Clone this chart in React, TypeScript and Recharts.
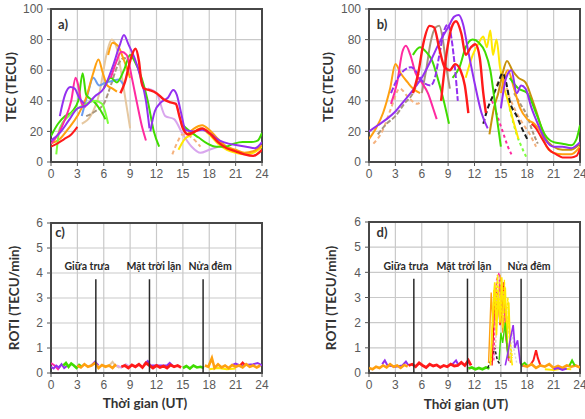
import type { CSSProperties } from 'react'
import {
  CartesianGrid,
  Line,
  LineChart,
  ReferenceArea,
  ReferenceDot,
  ReferenceLine,
  XAxis,
  YAxis,
} from 'recharts'

type Pt = [number, number]

interface Trace {
  key: string
  color: string
  pts: Pt[]
  dash?: string
  width?: number
}

const HOURS = [0, 3, 6, 9, 12, 15, 18, 21, 24]
const TEC_TICKS = [0, 20, 40, 60, 80, 100]
const ROTI_TICKS = [0, 1, 2, 3, 4, 5, 6]

// noon / sunset / midnight markers, in UT hours
const MARK_HOURS = [5.1, 11.2, 17.3]
const MARK_TOP = 3.75
const MARK_CAPTIONS = ['Giữa trưa', 'Mặt trời lặn', 'Nửa đêm']
const CAPTION_HOURS_C = [4.1, 11.7, 18.1]
const CAPTION_HOURS_D = [4.2, 10.8, 18.2]
const CAPTION_LEVEL = 4.25

const C = {
  purple: '#9430f0',
  red: '#ff1a1a',
  green: '#3fdc00',
  lime: '#7cff3a',
  orange: '#ffa010',
  magenta: '#ff2aa0',
  tan: '#e6c8a0',
  gray: '#a8967e',
  blue: '#6a9cf0',
  yellow: '#ffe800',
  gold: '#c8920c',
  lavender: '#d9a6ee',
  black: '#1e1e1e',
  peach: '#f5b27e',
}

// ---- TEC, quiet days (a)
const tecA_purple1: Pt[] = [[0, 14], [1, 19], [2, 27], [3, 35], [4, 37], [5, 43], [6, 48], [7, 62], [7.8, 76], [8.3, 83], [8.8, 77], [9.5, 68], [10.2, 55], [10.8, 40], [11.2, 22]]
const tecA_purple2: Pt[] = [[11.3, 20], [11.8, 33], [12.5, 39], [13.3, 42], [13.9, 47], [14.3, 44], [14.8, 32], [15.3, 21], [16.2, 20], [17.2, 21], [18.2, 18], [19.2, 14], [20.2, 12], [21.2, 11], [22.2, 10], [23.2, 9], [24, 13]]
const tecA_purple3: Pt[] = [[1, 30], [1.6, 44], [2.2, 49], [2.7, 48], [3.2, 42], [3.8, 38]]
const tecA_red1: Pt[] = [[0, 10], [0.7, 12], [1.5, 15], [2.3, 18], [3, 23]]
const tecA_red2: Pt[] = [[7.9, 45], [8.4, 52], [9, 66], [9.6, 74], [10, 66], [10.3, 52], [10.6, 48], [11.2, 47], [12, 45], [12.8, 41], [13.6, 39], [14.2, 38], [14.6, 30], [15, 22], [15.6, 18], [16.4, 20], [17.2, 22], [18, 19], [19, 13], [20, 9], [21, 7], [22, 5], [23, 4], [24, 8]]
const tecA_green1: Pt[] = [[0, 17], [0.8, 25], [1.6, 30], [2.4, 33], [3.1, 40], [3.6, 58], [4, 44], [4.8, 40], [5.5, 35], [6.2, 28]]
const tecA_green2: Pt[] = [[0.6, 5], [1, 22], [2, 30], [3, 35], [4, 38], [5, 40], [5.8, 38], [6.5, 25]]
const tecA_green3: Pt[] = [[6, 48], [6.8, 55], [7.5, 52], [8.3, 60], [9, 70], [9.5, 66], [10.3, 55], [11, 40], [11.7, 20], [12.3, 10]]
const tecA_green4: Pt[] = [[15, 24], [15.8, 20], [16.8, 16], [17.8, 12], [18.8, 10], [19.8, 10], [20.8, 12], [21.8, 13], [22.8, 13], [23.5, 14], [24, 19]]
const tecA_orange1: Pt[] = [[0, 12], [1, 15], [2, 22], [3, 30], [4, 42], [4.8, 58], [5.4, 67], [5.9, 58], [6.4, 50], [7, 48], [7.5, 46]]
const tecA_orange2: Pt[] = [[6.5, 70], [7, 78], [7.6, 76], [8.2, 68], [9, 55]]
const tecA_orange3: Pt[] = [[15.5, 18], [16.3, 22], [17.2, 24], [18, 21], [19, 15], [20, 10], [21, 8], [22, 6], [23, 7], [24, 11]]
const tecA_magenta1: Pt[] = [[0, 12], [0.8, 18], [1.6, 28], [2.3, 40], [2.8, 55], [3.1, 50], [3.5, 38], [4, 36]]
const tecA_magenta2: Pt[] = [[6.8, 55], [7.4, 65], [8, 72], [8.6, 70], [9.2, 55], [9.8, 38], [10.4, 22], [10.8, 14]]
const tecA_tan: Pt[] = [[3.5, 25], [4.5, 30], [5.5, 45], [6.3, 70], [6.9, 80], [7.5, 74], [8, 58], [8.5, 40], [9, 22]]
const tecA_gray: Pt[] = [[4, 30], [5, 33], [6, 38], [6.8, 50], [7.5, 62], [8.3, 68], [9, 65]]
const tecA_blue: Pt[] = [[3.5, 30], [4.2, 45], [4.8, 55], [5.5, 50], [6.2, 52], [7, 53], [7.7, 54], [8.3, 50]]
const tecA_yellow: Pt[] = [[14.5, 8], [15.2, 15], [16, 18], [17, 22], [18, 18], [19, 12], [20, 8], [21, 6], [22, 5], [23, 6], [24, 10]]
const tecA_lavender: Pt[] = [[11, 48], [12, 45], [13, 30], [14, 28], [15, 18], [16, 10], [17, 6], [18, 8], [19, 10]]
const tecA_peach: Pt[] = [[13.8, 5], [14.3, 12], [15, 18], [16, 16], [17, 10]]

// ---- TEC, disturbed days (b)
const tecB_purple1: Pt[] = [[0, 20], [1, 24], [2, 28], [3, 33], [4, 40], [5, 47], [6, 55], [7, 66], [8, 78], [9, 88], [9.7, 95], [10.2, 96], [10.7, 90], [11.3, 72], [12, 52], [12.8, 32], [13.5, 22]]
const tecB_purple2: Pt[] = [[2.5, 45], [3.3, 55], [4, 60], [4.8, 62], [5.5, 58], [6.2, 52], [7, 50], [7.5, 55], [8, 70], [8.5, 85], [9, 90], [9.4, 80], [9.8, 60], [10.1, 40]]
const tecB_purple3: Pt[] = [[15, 35], [15.6, 55], [16.2, 60], [16.8, 45], [17.3, 50], [17.8, 48], [18.5, 35], [19.2, 25], [20, 15], [21, 10], [22, 10], [23, 9], [24, 13]]
const tecB_red1: Pt[] = [[8.2, 40], [8.8, 70], [9.4, 88], [9.9, 92], [10.5, 84], [11, 70], [11.6, 75], [12.1, 77], [12.6, 68], [13, 45], [13.3, 32]]
const tecB_red2: Pt[] = [[5, 45], [5.6, 58], [6.2, 78], [6.9, 89], [7.4, 88], [8, 74], [8.6, 62], [9.2, 60], [9.8, 64], [10.4, 60], [10.9, 50], [11.3, 32]]
const tecB_red3: Pt[] = [[18.5, 25], [19, 22], [19.7, 15], [20.5, 8], [21.3, 5], [22, 3], [23, 3], [23.6, 4], [24, 9]]
const tecB_green1: Pt[] = [[5, 70], [5.8, 75], [6.5, 72], [7.2, 66], [7.8, 55], [8.5, 40], [9.1, 25]]
const tecB_green2: Pt[] = [[9.5, 55], [10.3, 62], [11, 75], [11.8, 80], [12.5, 78], [13.2, 72], [13.8, 60], [14.4, 35], [15, 10]]
const tecB_green3: Pt[] = [[16, 55], [17, 48], [18, 45], [19, 32], [20, 18], [21, 13], [22, 12], [23, 11], [23.6, 15], [24, 24]]
const tecB_orange1: Pt[] = [[0, 15], [0.8, 22], [1.6, 32], [2.4, 48], [3, 64], [3.6, 58], [4.4, 52], [5, 48], [5.8, 45]]
const tecB_orange2: Pt[] = [[15, 45], [15.8, 60], [16.5, 48], [17.2, 35], [18, 28], [18.8, 25], [19.5, 20], [20.2, 10], [21, 6], [22, 5], [23, 5], [24, 10]]
const tecB_yellow: Pt[] = [[11, 55], [11.8, 70], [12.5, 78], [13, 82], [13.4, 75], [13.8, 86], [14.1, 70], [14.5, 80], [14.9, 62], [15.3, 50], [15.8, 40], [16.5, 25], [17, 15]]
const tecB_gold: Pt[] = [[13.7, 18], [14.2, 35], [14.7, 45], [15.2, 58], [15.7, 66], [16.3, 60], [17, 55], [17.8, 52], [18.5, 42], [19.2, 30], [20, 16], [21, 10], [22, 8], [23, 8], [24, 12]]
const tecB_gray: Pt[] = [[6, 45], [6.5, 60], [7, 78], [7.6, 88], [8, 89], [8.4, 80], [8.8, 62], [9.2, 48]]
const tecB_magenta: Pt[] = [[2.5, 38], [3.2, 52], [3.8, 72], [4.2, 76], [4.7, 70], [5.3, 58], [6, 52], [6.7, 45], [7.3, 35], [7.7, 28]]
const tecB_black: Pt[] = [[13, 25], [13.5, 35], [14, 42], [14.6, 50], [15.2, 58], [15.6, 52], [16, 40], [16.8, 30], [17.4, 22], [18, 15]]
const tecB_peach: Pt[] = [[0.5, 12], [1.5, 20], [2.5, 35], [3.5, 48], [4.5, 42], [5.5, 38], [6, 40]]
const tecB_lime: Pt[] = [[16, 35], [16.8, 18], [17.5, 8], [18, 2]]
const tecB_pink: Pt[] = [[14, 40], [14.6, 30], [15.2, 20], [15.8, 10], [16.2, 5]]
const tecB_brown: Pt[] = [[1, 18], [2, 25], [3, 30], [4, 38], [5, 45], [5.7, 55]]
const tecB_peach2: Pt[] = [[14.5, 50], [15.2, 55], [16, 42], [16.8, 32], [17.5, 25], [18.3, 18], [19, 10]]
const tecB_gray2: Pt[] = [[16.5, 45], [17.2, 38], [18, 30], [18.6, 20], [19.2, 12]]

// ---- ROTI, quiet days (c)
const rotC_purple1: Pt[] = [[0, 0.25], [0.3, 0.18], [0.6, 0.3], [0.9, 0.22], [1.2, 0.35], [1.5, 0.2], [1.8, 0.28]]
const rotC_magenta: Pt[] = [[0, 0.4], [0.4, 0.3], [0.8, 0.15], [1.1, 0.3]]
const rotC_green1: Pt[] = [[1.4, 0.3], [1.7, 0.4], [2, 0.25], [2.3, 0.38], [2.6, 0.3], [2.9, 0.2], [3.2, 0.32], [3.5, 0.25]]
const rotC_orange1: Pt[] = [[3, 0.3], [3.4, 0.22], [3.8, 0.35], [4.2, 0.25], [4.6, 0.3], [5, 0.4], [5.4, 0.2], [5.8, 0.32], [6.2, 0.25], [6.6, 0.3], [7, 0.2], [7.4, 0.35]]
const rotC_purple2: Pt[] = [[4.6, 0.3], [5, 0.45], [5.4, 0.3]]
const rotC_tan: Pt[] = [[6.5, 0.25], [7, 0.45], [7.3, 0.3], [7.8, 0.2]]
const rotC_pink: Pt[] = [[7.5, 0.3], [8, 0.22], [8.5, 0.35], [9, 0.25]]
const rotC_red: Pt[] = [[8, 0.25], [8.4, 0.3], [8.8, 0.2], [9.2, 0.32], [9.6, 0.25], [10, 0.35], [10.4, 0.22], [10.8, 0.4], [11.2, 0.3], [11.6, 0.2], [12, 0.3], [12.4, 0.22], [12.8, 0.28], [13.2, 0.2], [13.6, 0.32], [14, 0.25], [14.4, 0.3], [14.8, 0.22]]
const rotC_purple3: Pt[] = [[10.6, 0.35], [11, 0.48], [11.3, 0.3], [13.2, 0.3], [13.5, 0.4], [13.8, 0.3]]
const rotC_green2: Pt[] = [[15, 0.2], [15.4, 0.28], [15.8, 0.18], [16.2, 0.3], [16.6, 0.22], [17, 0.25], [17.4, 0.2]]
const rotC_orange2: Pt[] = [[17.5, 0.3], [17.9, 0.25], [18.3, 0.6], [18.6, 0.2], [19, 0.35], [19.4, 0.22], [19.8, 0.3], [20.2, 0.2], [20.6, 0.32], [21, 0.25], [21.4, 0.3], [21.8, 0.22], [22.2, 0.35], [22.6, 0.25], [23, 0.3], [23.4, 0.22], [23.8, 0.3]]
const rotC_yellow: Pt[] = [[18, 0.15], [19, 0.2], [20, 0.15], [21, 0.18]]
const rotC_red2: Pt[] = [[21.5, 0.3], [21.8, 0.42], [22.1, 0.3]]
const rotC_purple4: Pt[] = [[20.5, 0.3], [21, 0.38], [21.5, 0.3], [23, 0.35], [23.5, 0.4], [24, 0.3]]

// ---- ROTI, disturbed days (d)
const rotD_orange1: Pt[] = [[0, 0.2], [0.4, 0.15], [0.8, 0.25], [1.2, 0.2], [1.6, 0.3], [2, 0.22], [2.4, 0.35], [2.8, 0.25], [3.2, 0.3], [3.6, 0.2], [4, 0.32], [4.4, 0.25]]
const rotD_purple1: Pt[] = [[1.5, 0.35], [1.8, 0.5], [2.1, 0.3], [3, 0.25], [3.8, 0.3], [4.2, 0.45], [4.5, 0.3]]
const rotD_red1: Pt[] = [[4.5, 0.3], [4.9, 0.35], [5.3, 0.25], [5.7, 0.4], [6.1, 0.3], [6.5, 0.22], [6.9, 0.35], [7.3, 0.28], [7.7, 0.32], [8.1, 0.22], [8.5, 0.3], [8.9, 0.25], [9.3, 0.35], [9.7, 0.28], [10.1, 0.3], [10.5, 0.42], [10.9, 0.3], [11.3, 0.5], [11.6, 0.3]]
const rotD_purple2: Pt[] = [[9.5, 0.35], [9.9, 0.5], [10.2, 0.3]]
const rotD_green1: Pt[] = [[11.3, 0.18], [11.7, 0.22], [12.1, 0.15], [12.5, 0.2], [12.9, 0.15], [13.3, 0.22], [13.7, 0.18]]
const rotD_black: Pt[] = [[13.5, 0.2], [14, 0.6], [14.3, 1.0], [14.6, 0.5], [15, 0.3]]
const rotD_yellow1: Pt[] = [[13.8, 0.3], [14.1, 2.5], [14.3, 3.6], [14.5, 1.5], [14.7, 3.2], [14.9, 2.0], [15.1, 3.8], [15.3, 2.4], [15.5, 3.4], [15.7, 1.2], [15.9, 2.8], [16.1, 0.8], [16.3, 0.3]]
const rotD_yellow3: Pt[] = [[13.9, 0.5], [14.2, 3.3], [14.4, 2.2], [14.6, 3.9], [14.8, 2.7], [15, 3.1], [15.2, 1.8], [15.4, 3.7], [15.6, 2.2], [15.8, 3.0], [16, 1.5], [16.3, 0.6]]
const rotD_orange2: Pt[] = [[13.6, 0.4], [13.9, 3.2], [14.1, 1.8], [14.3, 3.5], [14.6, 2.2], [14.9, 3.9], [15.2, 1.6], [15.5, 2.8], [15.8, 0.9], [16.1, 0.4]]
const rotD_red2: Pt[] = [[14, 0.3], [14.3, 2.8], [14.6, 3.3], [14.9, 1.9], [15.1, 2.4], [15.3, 3.6], [15.6, 1.3], [15.9, 0.5]]
const rotD_pink: Pt[] = [[14.2, 0.5], [14.5, 3.7], [14.8, 4.0], [15, 2.6], [15.3, 3.2], [15.6, 1.5], [15.9, 0.4]]
const rotD_tan: Pt[] = [[14.4, 1], [14.7, 3.9], [15, 3.5], [15.4, 3.0], [15.8, 2.0], [16.2, 0.5]]
const rotD_green2: Pt[] = [[14.8, 0.5], [15, 1.6], [15.2, 1.2], [15.5, 2.0], [15.8, 0.6]]
const rotD_purple3: Pt[] = [[15.5, 0.3], [15.8, 0.8], [16.1, 1.4], [16.4, 1.9], [16.6, 1.0], [16.9, 1.3], [17.2, 0.4], [17.5, 0.25]]
const rotD_gray: Pt[] = [[16, 0.5], [16.3, 1.6], [16.5, 0.9], [16.8, 0.4]]
const rotD_green3: Pt[] = [[17.3, 0.3], [17.7, 0.4], [18.1, 0.25]]
const rotD_red3: Pt[] = [[18.3, 0.3], [18.7, 0.5], [19, 0.9], [19.2, 0.6], [19.5, 0.3]]
const rotD_orange3: Pt[] = [[17.5, 0.3], [18, 0.25], [18.5, 0.35], [19, 0.2], [19.5, 0.3], [20, 0.25], [20.5, 0.35], [21, 0.2], [21.5, 0.28], [22, 0.2], [22.5, 0.3], [23, 0.25], [23.5, 0.3], [24, 0.22]]
const rotD_purple4: Pt[] = [[21, 0.15], [21.5, 0.2], [22, 0.12], [22.5, 0.18]]
const rotD_green4: Pt[] = [[22.8, 0.3], [23.1, 0.5], [23.4, 0.3]]
const rotD_yellow2: Pt[] = [[20, 0.15], [21, 0.12], [22, 0.18], [23, 0.15]]

const tecA: Trace[] = [
  { key: 'tan', color: C.tan, pts: tecA_tan },
  { key: 'gray', color: C.gray, pts: tecA_gray, dash: '5 2' },
  { key: 'lav', color: C.lavender, pts: tecA_lavender },
  { key: 'peach', color: C.peach, pts: tecA_peach, dash: '4 3' },
  { key: 'blue', color: C.blue, pts: tecA_blue },
  { key: 'y', color: C.yellow, pts: tecA_yellow },
  { key: 'o1', color: C.orange, pts: tecA_orange1 },
  { key: 'o2', color: C.orange, pts: tecA_orange2 },
  { key: 'o3', color: C.orange, pts: tecA_orange3 },
  { key: 'g1', color: C.green, pts: tecA_green1 },
  { key: 'g2', color: C.lime, pts: tecA_green2 },
  { key: 'g3', color: C.green, pts: tecA_green3 },
  { key: 'g4', color: C.green, pts: tecA_green4 },
  { key: 'm1', color: C.magenta, pts: tecA_magenta1 },
  { key: 'm2', color: C.magenta, pts: tecA_magenta2 },
  { key: 'p1', color: C.purple, pts: tecA_purple1 },
  { key: 'p2', color: C.purple, pts: tecA_purple2 },
  { key: 'p3', color: C.purple, pts: tecA_purple3 },
  { key: 'r1', color: C.red, pts: tecA_red1 },
  { key: 'r2', color: C.red, pts: tecA_red2, width: 2.4 },
]

const tecB: Trace[] = [
  { key: 'peach', color: C.peach, pts: tecB_peach, dash: '4 3' },
  { key: 'peach2', color: C.peach, pts: tecB_peach2, dash: '4 3' },
  { key: 'brown', color: C.gray, pts: tecB_brown, dash: '5 2' },
  { key: 'gray', color: C.gray, pts: tecB_gray },
  { key: 'gray2', color: C.gray, pts: tecB_gray2, dash: '4 2' },
  { key: 'pink', color: C.magenta, pts: tecB_pink, dash: '3 3' },
  { key: 'lime', color: C.lime, pts: tecB_lime, dash: '3 3' },
  { key: 'y', color: C.yellow, pts: tecB_yellow },
  { key: 'o1', color: C.orange, pts: tecB_orange1 },
  { key: 'o2', color: C.orange, pts: tecB_orange2 },
  { key: 'gold', color: C.gold, pts: tecB_gold },
  { key: 'blk', color: C.black, pts: tecB_black, dash: '5 3' },
  { key: 'm', color: C.magenta, pts: tecB_magenta },
  { key: 'g1', color: C.green, pts: tecB_green1 },
  { key: 'g2', color: C.green, pts: tecB_green2 },
  { key: 'g3', color: C.green, pts: tecB_green3 },
  { key: 'p1', color: C.purple, pts: tecB_purple1 },
  { key: 'p2', color: C.purple, pts: tecB_purple2, dash: '6 2' },
  { key: 'p3', color: C.purple, pts: tecB_purple3 },
  { key: 'r1', color: C.red, pts: tecB_red1, width: 2.4 },
  { key: 'r2', color: C.red, pts: tecB_red2, width: 2.4 },
  { key: 'r3', color: C.red, pts: tecB_red3 },
]

const rotiC: Trace[] = [
  { key: 'y', color: C.yellow, pts: rotC_yellow },
  { key: 'tan', color: C.tan, pts: rotC_tan },
  { key: 'pink', color: C.lavender, pts: rotC_pink },
  { key: 'm', color: C.magenta, pts: rotC_magenta },
  { key: 'p1', color: C.purple, pts: rotC_purple1 },
  { key: 'p2', color: C.purple, pts: rotC_purple2 },
  { key: 'p3', color: C.purple, pts: rotC_purple3 },
  { key: 'p4', color: C.purple, pts: rotC_purple4 },
  { key: 'g1', color: C.green, pts: rotC_green1, width: 2.6 },
  { key: 'o1', color: C.orange, pts: rotC_orange1, width: 2.6 },
  { key: 'r', color: C.red, pts: rotC_red, width: 2.8 },
  { key: 'r2', color: C.red, pts: rotC_red2 },
  { key: 'g2', color: C.green, pts: rotC_green2, width: 2.6 },
  { key: 'o2', color: C.orange, pts: rotC_orange2, width: 2.6 },
]

const rotiD: Trace[] = [
  { key: 'y2', color: C.yellow, pts: rotD_yellow2 },
  { key: 'p1', color: C.purple, pts: rotD_purple1 },
  { key: 'o1', color: C.orange, pts: rotD_orange1, width: 2.6 },
  { key: 'p2', color: C.purple, pts: rotD_purple2 },
  { key: 'r1', color: C.red, pts: rotD_red1, width: 2.8 },
  { key: 'g1', color: C.green, pts: rotD_green1, width: 2.6 },
  { key: 'blk', color: C.black, pts: rotD_black, dash: '3 2', width: 1.5 },
  { key: 'r2', color: C.red, pts: rotD_red2, width: 1.4 },
  { key: 'o2', color: C.orange, pts: rotD_orange2, width: 1.4 },
  { key: 'pink', color: C.magenta, pts: rotD_pink, width: 1.2, dash: '3 2' },
  { key: 'tan', color: C.tan, pts: rotD_tan, width: 1.4, dash: '3 2' },
  { key: 'y3', color: C.yellow, pts: rotD_yellow3, width: 1.3, dash: '3 1' },
  { key: 'y1', color: C.yellow, pts: rotD_yellow1, width: 1.6 },
  { key: 'g2', color: C.green, pts: rotD_green2, width: 1.4 },
  { key: 'gray', color: '#d8d8d8', pts: rotD_gray, dash: '2 2', width: 1.4 },
  { key: 'p3', color: C.purple, pts: rotD_purple3, width: 1.6 },
  { key: 'g3', color: C.green, pts: rotD_green3 },
  { key: 'r3', color: C.red, pts: rotD_red3 },
  { key: 'o3', color: C.orange, pts: rotD_orange3, width: 2.6 },
  { key: 'p4', color: C.purple, pts: rotD_purple4 },
  { key: 'g4', color: C.green, pts: rotD_green4 },
]

const rows = (pts: Pt[]) => pts.map(([t, v]) => ({ t, v }))

const TICK_FONT = { fill: '#5a5a5a', fontSize: 12, fontFamily: "'Liberation Sans', Arial, sans-serif" }
const TITLE_FONT = "Lato, 'Open Sans', sans-serif"

interface PanelProps {
  left: number
  top: number
  width: number
  height: number
  marginTop: number
  marginRight: number
  axisWidth: number
  axisHeight: number
  yMax: number
  yTicks: number[]
  traces: Trace[]
  smooth: boolean
  captionHours?: number[]
}

function Panel(p: PanelProps) {
  return (
    <div style={{ position: 'absolute', left: p.left, top: p.top }}>
      <LineChart
        width={p.width}
        height={p.height}
        margin={{ top: p.marginTop, right: p.marginRight, bottom: 0, left: 0 }}
      >
        <CartesianGrid stroke="#c9c9c9" strokeWidth={1.2} />
        <XAxis
          type="number"
          dataKey="t"
          domain={[0, 24]}
          ticks={HOURS}
          interval={0}
          allowDataOverflow
          height={p.axisHeight}
          axisLine={false}
          tickLine={{ stroke: '#555' }}
          tickSize={4}
          tickMargin={3}
          tick={TICK_FONT}
        />
        <YAxis
          type="number"
          domain={[0, p.yMax]}
          ticks={p.yTicks}
          interval={0}
          allowDataOverflow
          width={p.axisWidth}
          axisLine={false}
          tickLine={{ stroke: '#555' }}
          tickSize={4}
          tickMargin={4}
          tick={TICK_FONT}
        />
        {p.traces.map((tr) => (
          <Line
            key={tr.key}
            data={rows(tr.pts)}
            dataKey="v"
            type={p.smooth ? 'monotone' : 'linear'}
            stroke={tr.color}
            strokeWidth={tr.width ?? 2}
            strokeDasharray={tr.dash}
            dot={false}
            activeDot={false}
            isAnimationActive={false}
          />
        ))}
        {p.captionHours &&
          MARK_HOURS.map((h) => (
            <ReferenceLine
              key={`m${h}`}
              segment={[{ x: h, y: 0 }, { x: h, y: MARK_TOP }]}
              stroke="#2a2a2a"
              strokeWidth={1.5}
            />
          ))}
        {p.captionHours &&
          p.captionHours.map((h, i) => (
            <ReferenceDot
              key={`c${i}`}
              x={h}
              y={CAPTION_LEVEL}
              r={0}
              fill="none"
              stroke="none"
              label={{
                value: MARK_CAPTIONS[i],
                position: 'center',
                fill: '#2a2a2a',
                fontSize: 10.5,
                fontWeight: 700,
                fontFamily: TITLE_FONT,
              }}
            />
          ))}
        <ReferenceArea
          x1={0}
          x2={24}
          y1={0}
          y2={p.yMax}
          fill="none"
          stroke="#474747"
          strokeWidth={2}
          ifOverflow="visible"
        />
      </LineChart>
    </div>
  )
}

const baseTitle: CSSProperties = {
  position: 'absolute',
  fontFamily: TITLE_FONT,
  fontWeight: 700,
  color: '#333',
  whiteSpace: 'nowrap',
  lineHeight: 1,
}

function VTitle({ x, y, text }: { x: number; y: number; text: string }) {
  return (
    <div style={{ ...baseTitle, left: x, top: y, fontSize: 13.5, transform: 'translate(-50%, -50%) rotate(-90deg)' }}>
      {text}
    </div>
  )
}

function HText({ x, y, text, size }: { x: number; y: number; text: string; size: number }) {
  return (
    <div style={{ ...baseTitle, left: x, top: y, fontSize: size, transform: 'translate(-50%, -50%)' }}>
      {text}
    </div>
  )
}

export default function App() {
  return (
    <div
      style={{
        position: 'absolute',
        left: 0,
        top: 0,
        width: 585,
        height: 419,
        background: '#fff',
        overflow: 'hidden',
      }}
    >
      <Panel left={0} top={0} width={290} height={200} marginTop={9} marginRight={28} axisWidth={51} axisHeight={38} yMax={100} yTicks={TEC_TICKS} traces={tecA} smooth />
      <Panel left={290} top={0} width={295} height={200} marginTop={9} marginRight={5} axisWidth={79} axisHeight={38} yMax={100} yTicks={TEC_TICKS} traces={tecB} smooth />
      <Panel left={0} top={200} width={290} height={219} marginTop={23} marginRight={28} axisWidth={51} axisHeight={46} yMax={6} yTicks={ROTI_TICKS} traces={rotiC} smooth={false} captionHours={CAPTION_HOURS_C} />
      <Panel left={290} top={200} width={295} height={219} marginTop={22} marginRight={5} axisWidth={79} axisHeight={46} yMax={6} yTicks={ROTI_TICKS} traces={rotiD} smooth={false} captionHours={CAPTION_HOURS_D} />

      <VTitle x={12} y={87} text="TEC (TECU)" />
      <VTitle x={329} y={87} text="TEC (TECU)" />
      <VTitle x={15} y={298} text="ROTI (TECU/min)" />
      <VTitle x={332} y={298} text="ROTI (TECU/min)" />

      <HText x={145} y={404} text="Thời gian (UT)" size={13.5} />
      <HText x={466} y={405} text="Thời gian (UT)" size={13.5} />

      <HText x={63} y={24} text="a)" size={13} />
      <HText x={382} y={24} text="b)" size={13} />
      <HText x={60} y={232} text="c)" size={13} />
      <HText x={382} y={232} text="d)" size={13} />
    </div>
  )
}
